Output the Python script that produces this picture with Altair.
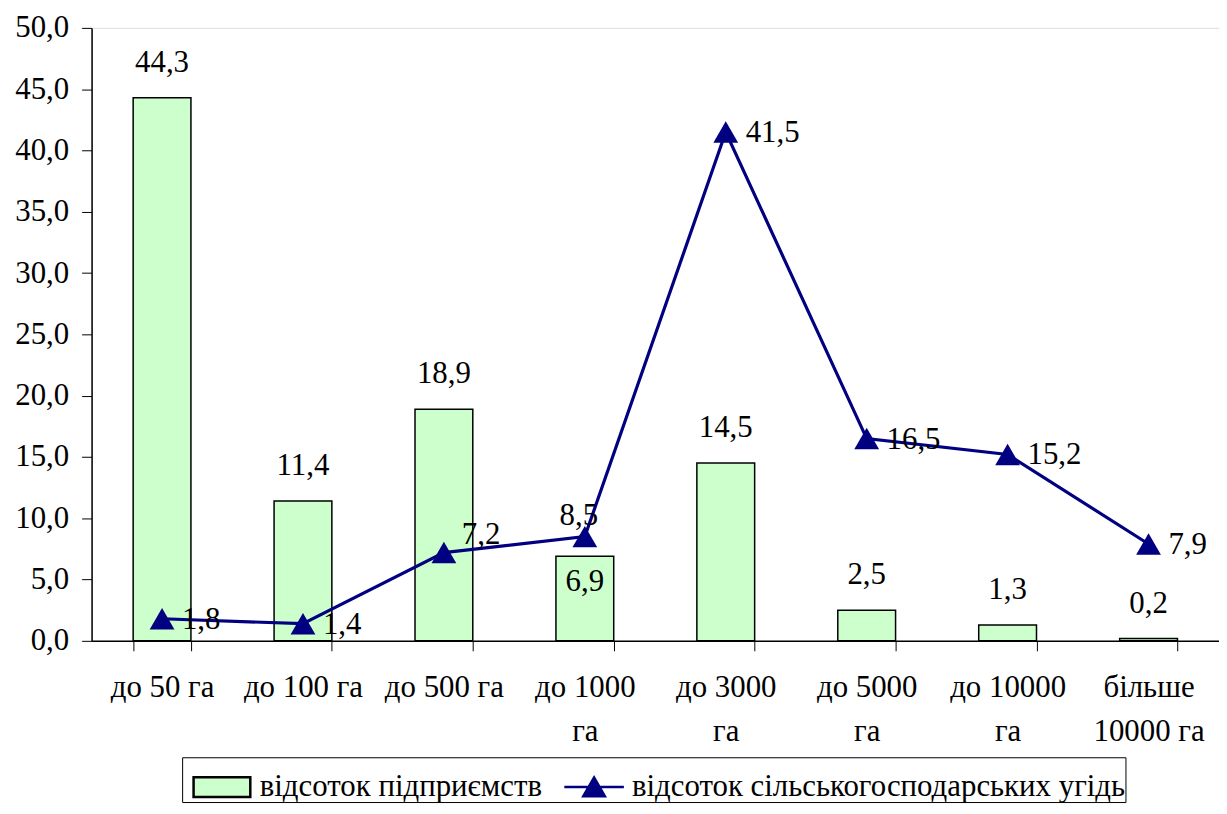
import altair as alt
import pandas as pd

categories = ["до 50 га", "до 100 га", "до 500 га", "до 1000\nга", "до 3000\nга",
              "до 5000\nга", "до 10000\nга", "більше\n10000 га"]
enterprises = [44.3, 11.4, 18.9, 6.9, 14.5, 2.5, 1.3, 0.2]
land = [1.8, 1.4, 7.2, 8.5, 41.5, 16.5, 15.2, 7.9]
y_ticks = [0, 5, 10, 15, 20, 25, 30, 35, 40, 45, 50]
series_names = ["відсоток підприємств", "відсоток сільськогосподарських угідь"]

df = pd.DataFrame({"category": categories, "enterprises": enterprises, "land": land})

FONT = "Liberation Serif"
FS = 31
GREEN = "#CCFFCC"
NAVY = "#000080"

x = alt.X("category:N", sort=categories, title=None,
          scale=alt.Scale(paddingInner=0.59, paddingOuter=0.295),
          axis=alt.Axis(labelAngle=0, labelExpr="split(datum.label, '\\n')",
                        labelFont=FONT, labelFontSize=FS, labelColor="black",
                        labelLineHeight=44, labelPadding=22, labelLimit=0,
                        tickBand="extent", tickSize=10, tickColor="black",
                        domainColor="black", domainWidth=1.5, labelOverlap=False))

y_axis = alt.Axis(values=y_ticks, labelExpr="replace(format(datum.value, '.1f'), '.', ',')",
                  labelFont=FONT, labelFontSize=FS, labelColor="black",
                  labelPadding=13, tickSize=10, tickColor="black",
                  domainColor="black", domainWidth=1.5, grid=False, title=None)
y_scale = alt.Scale(domain=[0, 50], nice=False)

def Y(field):
    return alt.Y(field + ":Q", title=None, scale=y_scale, axis=y_axis)

fmt = "replace(format(datum.{f}, '.1f'), '.', ',')"

base = alt.Chart(df).transform_calculate(
    lbl_e=fmt.format(f="enterprises"),
    lbl_l=fmt.format(f="land"),
)

bars = base.mark_bar(fill=GREEN, stroke="black", strokeWidth=1.5).encode(x=x, y=Y("enterprises"))

sym_rect = "M-1,-0.35H1V0.35H-1Z"
sym_line = "M-1.05,0H1.05M-0.38,0.32L0,-0.34L0.38,0.32Z"

legend = alt.Legend(
    orient="none", legendX=91, legendY=733, direction="horizontal", title=None,
    symbolSize=3249, symbolStrokeWidth=2.5, labelFont=FONT, labelFontSize=FS, labelColor="black",
    labelLimit=0, labelOffset=8, columnPadding=12, padding=0, symbolOffset=10,
    strokeColor="black", fillColor="white", symbolOpacity=1,
)

legend_layer = alt.Chart(pd.DataFrame({"series": series_names})).transform_filter(
    "false"
).mark_point(filled=True, opacity=1).encode(
    shape=alt.Shape("series:N", scale=alt.Scale(domain=series_names, range=[sym_rect, sym_line]), legend=legend),
    fill=alt.Fill("series:N", scale=alt.Scale(domain=series_names, range=[GREEN, NAVY]), legend=legend),
    stroke=alt.Stroke("series:N", scale=alt.Scale(domain=series_names, range=["black", NAVY]), legend=legend),
)

line = base.mark_line(strokeWidth=3.2, color=NAVY).encode(x=x, y=Y("land"))

points = base.mark_point(shape="triangle-up", filled=True, size=620, color=NAVY, opacity=1).encode(
    x=x, y=Y("land"))

def txt(**kw):
    return dict(font=FONT, fontSize=FS, color="black", baseline="middle", **kw)

bar_labels = base.transform_filter(
    alt.datum.category != categories[3]
).mark_text(**txt(dy=-35)).encode(x=x, y=Y("enterprises"), text="lbl_e:N")

bar_label_inside = base.transform_filter(
    alt.datum.category == categories[3]
).mark_text(**txt(dy=26)).encode(x=x, y=Y("enterprises"), text="lbl_e:N")

line_labels = base.transform_filter(
    (alt.datum.category != categories[2]) & (alt.datum.category != categories[3])
).mark_text(**txt(align="left", dx=20, dy=1)).encode(x=x, y=Y("land"), text="lbl_l:N")

line_label_72 = base.transform_filter(
    alt.datum.category == categories[2]
).mark_text(**txt(align="left", dx=18, dy=-18)).encode(x=x, y=Y("land"), text="lbl_l:N")

line_label_85 = base.transform_filter(
    alt.datum.category == categories[3]
).mark_text(**txt(align="center", dx=-6, dy=-21)).encode(x=x, y=Y("land"), text="lbl_l:N")

chart = alt.layer(
    bars, line, points, bar_labels, bar_label_inside, line_labels, line_label_72, line_label_85,
    legend_layer
).properties(
    width=1133, height=616,
    autosize=alt.AutoSizeParams(type="none"),
    padding={"left": 84, "top": 18, "right": 0, "bottom": 164},
).configure_view(
    stroke="#808080", strokeWidth=1
).configure(background="white")

chart.save("out.html", embed_options={"renderer": "svg", "actions": False})
